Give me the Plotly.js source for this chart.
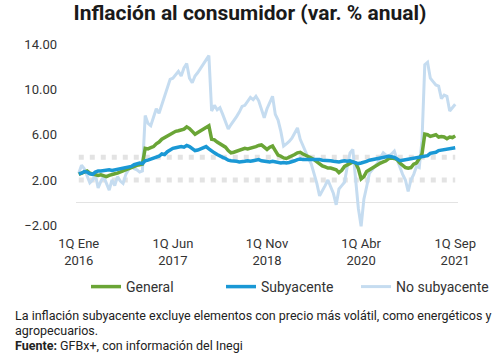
<!DOCTYPE html>
<html>
<head>
<meta charset="utf-8">
<script src="https://cdn.plot.ly/plotly-3.0.1.min.js"></script>
<style>html,body{margin:0;padding:0;background:#fff;}#chart{width:500px;height:363px;}</style>
</head>
<body>
<div id="chart"></div>
<script>
// Biweekly (quincenal) annual inflation, 1Q Ene 2016 .. 1Q Sep 2021
const general = [
  2.5, 2.6, 2.75, 2.8, 2.6, 2.55, 2.5, 2.4, 2.45, 2.35, 2.3, 2.4, 2.5, 2.55, 2.6, 2.7, 2.8, 2.95, 3.05, 3.1, 3.2, 3.3, 3.35, 3.4,
  4.8, 4.75, 4.85, 4.95, 5.2, 5.35, 5.6, 5.75, 5.85, 6.05, 6.2, 6.3, 6.35, 6.45, 6.5, 6.7, 6.55, 6.3, 6.05, 6.2, 6.35, 6.5, 6.65, 6.8,
  5.6, 5.55, 5.35, 5.2, 5.05, 4.9, 4.6, 4.4, 4.45, 4.55, 4.6, 4.75, 4.8, 4.75, 4.8, 4.9, 4.95, 5.05, 5.1, 4.9, 4.7, 4.9, 5.0, 4.6,
  4.2, 4.1, 3.95, 3.9, 4.0, 4.15, 4.25, 4.4, 4.45, 4.3, 4.2, 4.05, 3.95, 3.8, 3.6, 3.45, 3.25, 3.15, 3.05, 3.05, 3.0, 2.9, 2.65, 2.85,
  3.2, 3.35, 3.45, 3.6, 3.5, 3.0, 2.1, 2.3, 2.75, 2.9, 3.1, 3.2, 3.35, 3.5, 3.6, 3.7, 3.9, 3.95, 3.9, 3.8, 3.5, 3.3, 3.1, 3.05,
  3.1, 3.4, 3.5, 3.9, 4.3, 6.05, 6.0, 5.85, 5.95, 6.0, 5.8, 5.85, 5.8, 5.65, 5.8, 5.75, 5.9
];
const subyacente = [
  2.55, 2.6, 2.75, 2.7, 2.55, 2.5, 2.7, 2.8, 2.8, 2.85, 2.85, 2.9, 2.85, 2.9, 2.9, 2.95, 3.0, 3.05, 3.15, 3.2, 3.35, 3.4, 3.5, 3.45,
  3.7, 3.75, 3.85, 3.9, 4.0, 4.1, 4.3, 4.25, 4.5, 4.7, 4.8, 4.85, 4.9, 4.95, 4.9, 5.05, 4.95, 4.75, 4.6, 4.65, 4.75, 4.85, 4.95, 4.75,
  4.55, 4.4, 4.25, 4.1, 4.0, 3.9, 3.75, 3.7, 3.7, 3.65, 3.6, 3.6, 3.65, 3.7, 3.65, 3.7, 3.75, 3.8, 3.7, 3.65, 3.65, 3.6, 3.65, 3.6,
  3.55, 3.5, 3.55, 3.5, 3.55, 3.6, 3.7, 3.8, 3.85, 3.8, 3.8, 3.8, 3.85, 3.8, 3.8, 3.8, 3.75, 3.75, 3.7, 3.7, 3.65, 3.6, 3.6, 3.65,
  3.7, 3.65, 3.7, 3.6, 3.5, 3.45, 3.5, 3.55, 3.65, 3.75, 3.8, 3.85, 3.95, 4.0, 4.05, 4.1, 4.1, 4.05, 4.0, 3.85, 3.7, 3.75, 3.8, 3.85,
  3.9, 3.95, 4.0, 4.05, 4.1, 4.1, 4.15, 4.35, 4.4, 4.45, 4.6, 4.65, 4.65, 4.7, 4.75, 4.8, 4.85
];
const noSubyacente = [
  2.6, 3.3, 3.0, 2.3, 1.75, 2.0, 2.45, 1.3, 1.9, 2.3, 1.6, 1.1, 2.0, 1.5, 2.3, 1.9, 1.7, 2.5, 2.9, 3.2, 3.0, 2.9, 2.7, 2.8,
  7.7, 7.0, 6.8, 7.6, 8.3, 7.9, 8.6, 9.3, 10.2, 10.9, 11.0, 11.3, 11.6, 11.2, 11.9, 12.3, 11.0, 10.6, 11.2, 11.5, 11.9, 12.2, 12.6, 13.0,
  8.1, 8.6, 8.2, 8.4, 7.8, 7.2, 6.5, 6.9, 7.2, 7.6, 8.0, 8.5, 8.6, 9.0, 9.3, 9.1, 9.4, 9.0, 8.3, 7.5, 8.3, 8.8, 9.4, 7.8,
  7.3, 6.3, 5.0, 5.2, 5.4, 5.7, 6.1, 6.6, 5.6, 5.0, 4.4, 3.9, 3.4, 2.6, 1.7, 0.6, 1.0, 1.5, 2.0, 1.4, 0.8, -0.2, 1.2, 1.5,
  1.8, 3.2, 4.4, 4.7, 2.4, -0.5, -2.1, 0.3, 1.4, 2.6, 2.9, 3.2, 3.5, 4.0, 4.4, 4.2, 4.1, 4.3, 4.55, 3.8, 3.1, 2.5, 2.0, 1.0,
  2.0, 2.5, 3.2, 3.1, 5.5, 12.2, 12.4, 11.0, 10.7, 10.4, 10.3, 9.2, 9.5, 9.4, 8.1, 8.4, 8.7
];
const periodIndex = general.map((_, i) => i);
const tickIndex = [0, 34, 68, 102, 136];
const tickLabels = ["1Q Ene<br>2016", "1Q Jun<br>2017", "1Q Nov<br>2018", "1Q Abr<br>2020", "1Q Sep<br>2021"];
const yTicks = [-2, 2, 6, 10, 14];
const bandLevels = [2, 4];

const FONT = "Roboto, 'Liberation Sans', sans-serif";

const traces = [
  {x: periodIndex, y: noSubyacente, name: "No subyacente", type: "scatter", mode: "lines",
   line: {color: "#c5dcf0", width: 3}, legend: "legend3"},
  {x: periodIndex, y: general, name: "General", type: "scatter", mode: "lines",
   line: {color: "#6aa536", width: 3.5}, legend: "legend"},
  {x: periodIndex, y: subyacente, name: "Subyacente", type: "scatter", mode: "lines",
   line: {color: "#1a98d5", width: 3.5}, legend: "legend2"}
];

const shapes = bandLevels.map(v => ({
  type: "line", xref: "x", yref: "y", x0: 0, x1: periodIndex[periodIndex.length - 1], y0: v, y1: v,
  line: {color: "#e3e3e3", width: 5, dash: "5px,6px"}, layer: "below"
}));

const L = 76, R = 42, T = 42, B = 131;
const plotW = 500 - L - R, plotH = 363 - T - B;
const px2paperX = px => (px - L) / plotW;
const px2paperY = py => (363 - B - py) / plotH;

const legendBase = (xpx) => ({
  orientation: "h", xref: "container", yref: "container", x: xpx / 500, xanchor: "left",
  y: 1 - 287 / 363, yanchor: "middle", font: {size: 14, color: "#333"},
  bgcolor: "rgba(0,0,0,0)", itemwidth: 30
});

const layout = {
  width: 500, height: 363,
  margin: {l: L, r: R, t: T, b: B, pad: 0},
  paper_bgcolor: "#fff", plot_bgcolor: "#fff",
  font: {family: FONT, color: "#333", size: 13},
  title: {text: "<b>Inflación al consumidor (var. % anual)</b>", x: 0.5, xanchor: "center",
          y: 1 - 13 / 363, yanchor: "middle", yref: "container",
          font: {family: FONT, size: 21, color: "#1a1a1a"}},
  xaxis: {range: [-1, 137], tickvals: tickIndex, ticktext: tickLabels, showgrid: false,
          zeroline: false, showline: false, ticks: "", tickfont: {size: 13, color: "#333"},
          ticklabelstandoff: 2},
  yaxis: {range: [-2.6, 14.2], tickvals: yTicks, tickformat: ".2f", showgrid: false,
          zeroline: true, zerolinecolor: "#e3e3e3", zerolinewidth: 1.5, showline: false, ticks: "",
          tickfont: {size: 13, color: "#333"}, ticklabelstandoff: 18},
  shapes: shapes,
  showlegend: true,
  legend: legendBase(86),
  legend2: legendBase(221),
  legend3: legendBase(356),
  annotations: [
    {text: "La inflación subyacente excluye elementos con precio más volátil, como energéticos y",
     xref: "paper", yref: "paper", x: px2paperX(13), y: px2paperY(315), xanchor: "left", yanchor: "middle",
     showarrow: false, font: {size: 12.5, color: "#222"}},
    {text: "agropecuarios.",
     xref: "paper", yref: "paper", x: px2paperX(13), y: px2paperY(330), xanchor: "left", yanchor: "middle",
     showarrow: false, font: {size: 12.5, color: "#222"}},
    {text: "<b>Fuente:</b> GFBx+, con información del Inegi",
     xref: "paper", yref: "paper", x: px2paperX(13), y: px2paperY(345), xanchor: "left", yanchor: "middle",
     showarrow: false, font: {size: 12.5, color: "#222"}}
  ]
};

Plotly.newPlot("chart", traces, layout, {staticPlot: true, displayModeBar: false});
</script>
</body>
</html>
